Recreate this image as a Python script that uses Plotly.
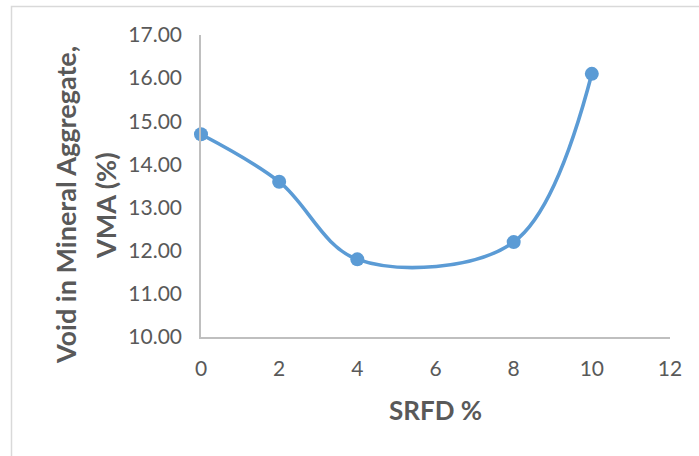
import plotly.graph_objects as go

srfd = [0, 2, 4, 8, 10]
vma = [14.70, 13.60, 11.80, 12.20, 16.10]
y_ticks = [10, 11, 12, 13, 14, 15, 16, 17]
x_ticks = [0, 2, 4, 6, 8, 10, 12]

fig = go.Figure()
fig.add_trace(go.Scatter(
    x=srfd, y=vma, mode="lines+markers",
    line=dict(color="#5b9bd5", width=3.6, shape="spline", smoothing=1.0),
    marker=dict(color="#5b9bd5", size=14),
    showlegend=False, cliponaxis=False,
))

font_family = "Lato, 'Open Sans', sans-serif"


def px_x(p):
    return (p - 201) / 469


def px_y(p):
    return (337 - p) / 302


fig.update_layout(
    width=699, height=456,
    margin=dict(l=201, r=29, t=35, b=119),
    paper_bgcolor="white", plot_bgcolor="white",
    font=dict(family=font_family, color="#595959", size=21),
    xaxis=dict(range=[0, 12], tickvals=x_ticks, ticktext=[str(v) for v in x_ticks],
               showgrid=False, zeroline=False, showline=True, linecolor="#bfbfbf",
               linewidth=1.5, ticks="", ticklabelstandoff=12,
               tickfont=dict(size=21, color="#595959")),
    yaxis=dict(range=[10, 17], tickvals=y_ticks, ticktext=[f"{v:.2f}" for v in y_ticks],
               showgrid=False, zeroline=False, showline=True, linecolor="#bfbfbf",
               linewidth=1.5, ticks="", ticklabelstandoff=13,
               tickfont=dict(size=21, color="#595959")),
    annotations=[
        dict(text="<b>SRFD %</b>", x=px_x(435), y=px_y(410), xref="paper", yref="paper",
             xanchor="center", yanchor="middle",
             showarrow=False, font=dict(size=26, color="#595959")),
        dict(text="<b>Void in Mineral Aggregate,</b>", textangle=-90,
             x=px_x(65), y=px_y(205), xref="paper", yref="paper",
             xanchor="center", yanchor="middle", showarrow=False,
             font=dict(size=27, color="#595959")),
        dict(text="<b>VMA (%)</b>", textangle=-90,
             x=px_x(105), y=px_y(206), xref="paper", yref="paper",
             xanchor="center", yanchor="middle", showarrow=False,
             font=dict(size=27, color="#595959")),
    ],
    shapes=[dict(type="rect", xref="paper", yref="paper",
                 x0=px_x(11.5), x1=1.2, y0=-0.6, y1=px_y(6.5),
                 line=dict(color="#d9d9d9", width=1.5), fillcolor="rgba(0,0,0,0)", layer="below")],
)

fig.write_html("out.html", config={"displayModeBar": False},
               post_script="document.body.style.margin='0';document.body.style.overflow='hidden';")
